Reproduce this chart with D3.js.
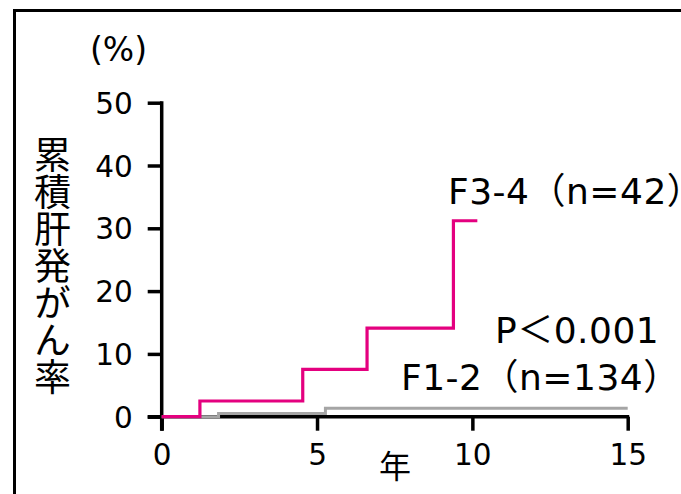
<!DOCTYPE html>
<html>
<head>
<meta charset="utf-8">
<script src="https://cdn.jsdelivr.net/npm/d3@7"></script>
<style>
  body { margin: 0; background: #fff; }
  text { font-family: "DejaVu Sans", "Noto Sans CJK JP", sans-serif; fill: #000; }
</style>
</head>
<body>
<svg id="chart" width="681" height="494"></svg>
<script>
var WIDTH = 681
  , HEIGHT = 494

// years / cumulative incidence (%)
var f34Years = [0, 1.23, 4.54, 6.61, 9.39, 10.16]
  , f34Rates = [0, 2.5, 7.55, 14.1, 31.2, 31.2]
  , f12Years = [0, 1.83, 5.27, 15]
  , f12Rates = [0, 0.5, 1.33, 1.33]
  , xTicks = [0, 5, 10, 15]
  , yTicks = [0, 10, 20, 30, 40, 50]
  , yTitle = '累積肝発がん率'

var PINK = '#e4007f'
  , GRAY = '#a5a5a5'

var svg = d3.select('#chart')

// frame, runs off the right and bottom edges
svg.append('path')
  .attr('d', 'M14.5,' + (HEIGHT + 5) + 'V10.5H' + (WIDTH + 5))
  .attr('fill', 'none')
  .attr('stroke', '#000')
  .attr('stroke-width', 3)

var x = d3.scaleLinear().domain([0, 15]).range([161.7, 627.7])
  , y = d3.scaleLinear().domain([0, 50]).range([416.7, 102.7])

var TICK = 14

// axis lines drawn by hand so they overrun past the origin
svg.append('line')
  .attr('x1', x(0)).attr('x2', x(0))
  .attr('y1', y(50) - 1.5).attr('y2', y(0) + TICK)
  .attr('stroke', '#000').attr('stroke-width', 3.5)

svg.append('line')
  .attr('x1', x(0) - TICK).attr('x2', x(15) + 1.5)
  .attr('y1', y(0)).attr('y2', y(0))
  .attr('stroke', '#000').attr('stroke-width', 3.5)

var yAxis = svg.append('g')
  .attr('transform', 'translate(' + x(0) + ',0)')
  .call(d3.axisLeft(y).tickValues(yTicks).tickSize(TICK).tickSizeOuter(0).tickPadding(15))

var xAxis = svg.append('g')
  .attr('transform', 'translate(0,' + y(0) + ')')
  .call(d3.axisBottom(x).tickValues(xTicks).tickSize(TICK).tickSizeOuter(0).tickPadding(12))

styleAxis(yAxis)
styleAxis(xAxis)

yAxis.selectAll('text').attr('dy', '0.36em')
xAxis.selectAll('text').attr('dy', '0.76em')

function styleAxis(g) {
  g.select('.domain').remove()
  g.selectAll('line')
    .attr('stroke', '#000')
    .attr('stroke-width', 3.5)
  g.selectAll('text')
    .attr('font-family', '"DejaVu Sans", sans-serif')
    .attr('font-size', '29.5px')
    .attr('fill', '#000')
}

// curves
var line = d3.line()
  .x(function(d) { return x(d[0]) })
  .y(function(d) { return y(d[1]) })
  .curve(d3.curveStepAfter)

svg.append('path')
  .datum(d3.zip(f12Years, f12Rates))
  .attr('d', line)
  .attr('fill', 'none')
  .attr('stroke', GRAY)
  .attr('stroke-width', 3)

svg.append('path')
  .datum(d3.zip(f34Years, f34Rates))
  .attr('d', line)
  .attr('fill', 'none')
  .attr('stroke', PINK)
  .attr('stroke-width', 3.2)

// labels
svg.append('text')
  .attr('x', 90)
  .attr('y', 61)
  .attr('font-size', '33px')
  .text('(%)')

svg.append('text')
  .attr('x', 49)
  .attr('y', 136)
  .attr('font-size', '37px')
  .style('writing-mode', 'vertical-rl')
  .text(yTitle)

svg.append('text')
  .attr('x', 395)
  .attr('y', 478)
  .attr('text-anchor', 'middle')
  .attr('font-size', '32px')
  .text('年')

svg.append('text')
  .attr('x', 448)
  .attr('y', 204)
  .attr('font-size', '36px')
  .attr('letter-spacing', '0.5px')
  .text('F3-4（n=42）')

svg.append('text')
  .attr('x', 495)
  .attr('y', 343)
  .attr('font-size', '36px')
  .attr('letter-spacing', '0.5px')
  .text('P＜0.001')

svg.append('text')
  .attr('x', 401)
  .attr('y', 390)
  .attr('font-size', '36px')
  .attr('letter-spacing', '0.5px')
  .text('F1-2（n=134）')
</script>
</body>
</html>
